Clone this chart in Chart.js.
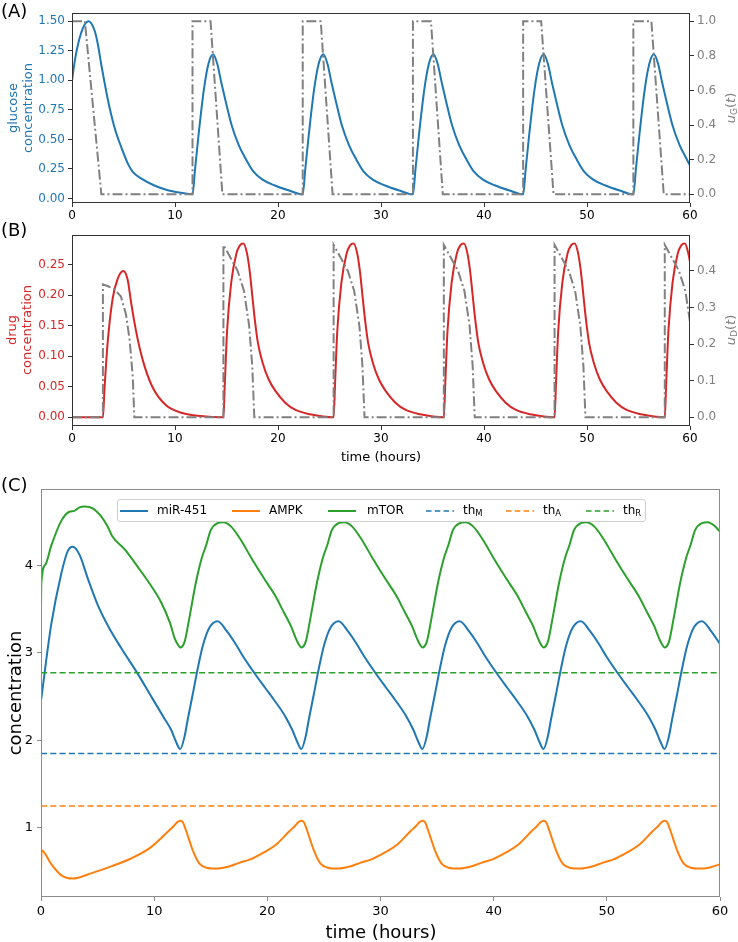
<!DOCTYPE html>
<html>
<head>
<meta charset="utf-8">
<title>Glucose, drug and miR-451 / AMPK / mTOR</title>
<script src="https://cdn.jsdelivr.net/npm/chart.js"></script>
<style>
    body { margin: 0; background: #fff; font-family: "DejaVu Sans", sans-serif; }
    #wrap { position: relative; width: 738px; height: 942px; overflow: hidden; }
    canvas { position: absolute; left: 0; }
    .txt { position: absolute; white-space: nowrap; line-height: 1; }
    .rot { position: absolute; white-space: nowrap; text-align: center; transform: translate(-50%, -50%) rotate(-90deg); }
    .ctr { position: absolute; white-space: nowrap; transform: translate(-50%, -50%); }
    sub { font-size: 70%; vertical-align: -0.25em; line-height: 0; }
    #legend { position: absolute; border: 1px solid #d0d0d0; border-radius: 3px; background: rgba(255,255,255,0.85); box-sizing: border-box; }
    .lg { position: absolute; }
    .lt { position: absolute; font-size: 12px; line-height: 14px; white-space: nowrap; }
</style>
</head>
<body>
<div id="wrap">
    <canvas id="chartA" width="738" height="222" style="top:0px"></canvas>
    <canvas id="chartB" width="738" height="248" style="top:222px"></canvas>
    <canvas id="chartC" width="738" height="472" style="top:470px"></canvas>

    <div class="txt" style="left:1px;top:2px;font-size:18px">(A)</div>
    <div class="txt" style="left:1px;top:221px;font-size:18px">(B)</div>
    <div class="txt" style="left:1px;top:476px;font-size:18px">(C)</div>

    <div class="rot" style="left:20px;top:108px;font-size:13px;line-height:15px;color:#1f77b4">glucose<br>concentration</div>
    <div class="rot" style="left:730px;top:108px;font-size:13px;color:#808080"><i>u</i><sub>G</sub>(<i>t</i>)</div>
    <div class="rot" style="left:19px;top:330px;font-size:13px;line-height:15px;color:#d62728">drug<br>concentration</div>
    <div class="rot" style="left:730px;top:330px;font-size:13px;color:#808080"><i>u</i><sub>D</sub>(<i>t</i>)</div>
    <div class="ctr" style="left:381px;top:456px;font-size:13px">time (hours)</div>

    <div class="rot" style="left:14px;top:693px;font-size:18px">concentration</div>
    <div class="ctr" style="left:381px;top:931px;font-size:18px">time (hours)</div>

    <div id="legend" style="left:117px;top:499px;width:529px;height:23px"></div>
    <svg class="lg" style="left:120px;top:509px" width="28" height="4"><line x1="0" y1="2" x2="28" y2="2" stroke="#1f77b4" stroke-width="2"/></svg>
    <div class="lt" style="left:157px;top:503px">miR-451</div>
    <svg class="lg" style="left:232px;top:509px" width="28" height="4"><line x1="0" y1="2" x2="28" y2="2" stroke="#ff7f0e" stroke-width="2"/></svg>
    <div class="lt" style="left:269px;top:503px">AMPK</div>
    <svg class="lg" style="left:328px;top:509px" width="28" height="4"><line x1="0" y1="2" x2="28" y2="2" stroke="#2ca02c" stroke-width="2"/></svg>
    <div class="lt" style="left:367px;top:503px">mTOR</div>
    <svg class="lg" style="left:426px;top:509px" width="28" height="4"><line x1="0" y1="2" x2="28" y2="2" stroke="#1f77b4" stroke-width="1.5" stroke-dasharray="5.5 3.3"/></svg>
    <div class="lt" style="left:463px;top:503px">th<sub>M</sub></div>
    <svg class="lg" style="left:506px;top:509px" width="28" height="4"><line x1="0" y1="2" x2="28" y2="2" stroke="#ff7f0e" stroke-width="1.5" stroke-dasharray="5.5 3.3"/></svg>
    <div class="lt" style="left:543px;top:503px">th<sub>A</sub></div>
    <svg class="lg" style="left:586px;top:509px" width="28" height="4"><line x1="0" y1="2" x2="28" y2="2" stroke="#2ca02c" stroke-width="1.5" stroke-dasharray="5.5 3.3"/></svg>
    <div class="lt" style="left:623px;top:503px">th<sub>R</sub></div>
</div>

<script>
    // ---- tick values ----
    const timeTicks = [0, 10, 20, 30, 40, 50, 60];
    const glucoseTicks = [0, 0.25, 0.5, 0.75, 1.0, 1.25, 1.5];
    const uGTicks = [0, 0.2, 0.4, 0.6, 0.8, 1.0];
    const drugTicks = [0, 0.05, 0.10, 0.15, 0.20, 0.25];
    const uDTicks = [0, 0.1, 0.2, 0.3, 0.4];
    const concTicks = [1, 2, 3, 4];

    // ---- panel A: glucose concentration and glucose input u_G(t) ----
    const glucoseTime = [
        0, 0.3, 0.6, 1.05, 1.6, 2.2, 2.5, 2.85, 3.5, 4.1, 4.8, 5.4, 5.9, 6.7, 8.0, 9.3, 10.6,
        11.7, 11.95, 12.3, 12.8, 13.25, 13.7, 14.1, 14.5, 14.9, 15.5, 16.2, 16.9, 17.6, 18.5, 19.7, 21.0,
        22.4, 22.65, 23.0, 23.5, 23.95, 24.4, 24.8, 25.2, 25.6, 26.2, 26.9, 27.6, 28.3, 29.2, 30.4, 31.7,
        33.1, 33.35, 33.7, 34.2, 34.65, 35.1, 35.5, 35.9, 36.3, 36.9, 37.6, 38.3, 39.0, 39.9, 41.1, 42.4,
        43.8, 44.05, 44.4, 44.9, 45.35, 45.8, 46.2, 46.6, 47.0, 47.6, 48.3, 49.0, 49.7, 50.6, 51.8, 53.1,
        54.5, 54.75, 55.1, 55.6, 56.05, 56.5, 56.9, 57.3, 57.7, 58.3, 59.0, 59.7, 60.0
    ];
    const glucoseValue = [
        1.00, 1.18, 1.31, 1.44, 1.50, 1.42, 1.31, 1.13, 0.83, 0.61, 0.43, 0.30, 0.225, 0.17, 0.11, 0.07, 0.048,
        0.035, 0.25, 0.55, 0.92, 1.14, 1.22, 1.14, 0.98, 0.83, 0.62, 0.45, 0.33, 0.23, 0.16, 0.11, 0.07,
        0.035, 0.25, 0.55, 0.92, 1.14, 1.22, 1.14, 0.98, 0.83, 0.62, 0.45, 0.33, 0.23, 0.16, 0.11, 0.07,
        0.035, 0.25, 0.55, 0.92, 1.14, 1.22, 1.14, 0.98, 0.83, 0.62, 0.45, 0.33, 0.23, 0.16, 0.11, 0.07,
        0.035, 0.25, 0.55, 0.92, 1.14, 1.22, 1.14, 0.98, 0.83, 0.62, 0.45, 0.33, 0.23, 0.16, 0.11, 0.07,
        0.035, 0.25, 0.55, 0.92, 1.14, 1.22, 1.14, 0.98, 0.83, 0.62, 0.45, 0.33, 0.28
    ];
    const uGTime = [0, 1.25, 2.85, 11.7, 11.7, 13.45, 14.6, 22.4, 22.4, 24.15, 25.3, 33.1, 33.1, 34.85, 36.0,
        43.8, 43.8, 45.55, 46.75, 54.5, 54.5, 56.25, 57.45, 60];
    const uGValue = [1, 1, 0, 0, 1, 1, 0, 0, 1, 1, 0, 0, 1, 1, 0, 0, 1, 1, 0, 0, 1, 1, 0, 0];

    // ---- panel B: drug concentration and drug input u_D(t) ----
    const drugTime = [
        0, 3.0, 3.15, 3.45, 3.95, 4.45, 4.98, 5.4, 5.75, 6.2, 6.85, 7.8, 9.1, 10.7, 12.5,
        14.7, 14.85, 15.05, 15.45, 15.95, 16.3, 16.65, 17.0, 17.25, 17.5, 17.75, 18.05, 18.5, 19.1, 19.8, 20.7, 21.7, 23.1,
        25.4, 25.55, 25.75, 26.15, 26.65, 27.0, 27.35, 27.7, 27.95, 28.2, 28.45, 28.75, 29.2, 29.8, 30.5, 31.4, 32.4, 33.8,
        36.1, 36.25, 36.45, 36.85, 37.35, 37.7, 38.05, 38.4, 38.65, 38.9, 39.15, 39.45, 39.9, 40.5, 41.2, 42.1, 43.1, 44.5,
        46.85, 47.0, 47.2, 47.6, 48.1, 48.45, 48.8, 49.15, 49.4, 49.65, 49.9, 50.2, 50.65, 51.25, 51.95, 52.85, 53.85, 55.25,
        57.55, 57.7, 57.9, 58.3, 58.8, 59.15, 59.5, 59.85, 60.0
    ];
    const drugValue = [
        0, 0, 0.045, 0.12, 0.195, 0.228, 0.240, 0.226, 0.187, 0.143, 0.095, 0.05, 0.02, 0.007, 0.002,
        0, 0.06, 0.14, 0.22, 0.268, 0.282, 0.285, 0.268, 0.24, 0.20, 0.16, 0.122, 0.09, 0.062, 0.042, 0.024, 0.012, 0.005,
        0, 0.06, 0.14, 0.22, 0.268, 0.282, 0.285, 0.268, 0.24, 0.20, 0.16, 0.122, 0.09, 0.062, 0.042, 0.024, 0.012, 0.005,
        0, 0.06, 0.14, 0.22, 0.268, 0.282, 0.285, 0.268, 0.24, 0.20, 0.16, 0.122, 0.09, 0.062, 0.042, 0.024, 0.012, 0.005,
        0, 0.06, 0.14, 0.22, 0.268, 0.282, 0.285, 0.268, 0.24, 0.20, 0.16, 0.122, 0.09, 0.062, 0.042, 0.024, 0.012, 0.005,
        0, 0.06, 0.14, 0.22, 0.268, 0.282, 0.285, 0.268, 0.255
    ];
    const uDTime = [
        0, 3.0, 3.0, 3.5, 4.1, 4.75, 5.25, 5.6, 5.9, 6.05,
        14.7, 14.7, 15.4, 16.08, 16.7, 17.2, 17.5, 17.7,
        25.4, 25.4, 26.1, 26.78, 27.4, 27.9, 28.2, 28.4,
        36.1, 36.1, 36.8, 37.48, 38.1, 38.6, 38.9, 39.1,
        46.85, 46.85, 47.55, 48.23, 48.85, 49.35, 49.65, 49.85,
        57.55, 57.55, 58.25, 58.93, 59.55, 60.0
    ];
    const uDValue = [
        0, 0, 0.363, 0.358, 0.35, 0.33, 0.28, 0.21, 0.11, 0,
        0, 0.471, 0.435, 0.40, 0.345, 0.25, 0.14, 0,
        0, 0.471, 0.435, 0.40, 0.345, 0.25, 0.14, 0,
        0, 0.471, 0.435, 0.40, 0.345, 0.25, 0.14, 0,
        0, 0.471, 0.435, 0.40, 0.345, 0.25, 0.14, 0,
        0, 0.471, 0.435, 0.40, 0.345, 0.26
    ];

    // ---- panel C: miR-451, AMPK, mTOR and thresholds ----
    const mirTime = [
        0, 0.9, 1.77, 2.36, 2.8, 3.4, 4.13, 5.0, 5.95, 7.1, 8.5, 9.88, 10.9, 11.5, 11.94,
        12.3, 12.68, 12.97, 13.4, 13.85, 14.3, 14.9, 15.6, 16.4, 17.2, 17.85, 18.9, 19.8, 20.6, 21.6, 22.2, 22.65,
        23.0, 23.38, 23.67, 24.1, 24.55, 25.0, 25.6, 26.3, 27.1, 27.9, 28.55, 29.6, 30.5, 31.3, 32.3, 32.9, 33.35,
        33.7, 34.08, 34.37, 34.8, 35.25, 35.7, 36.3, 37.0, 37.8, 38.6, 39.25, 40.3, 41.2, 42.0, 43.0, 43.6, 44.05,
        44.4, 44.78, 45.07, 45.5, 45.95, 46.4, 47.0, 47.7, 48.5, 49.3, 49.95, 51.0, 51.9, 52.7, 53.7, 54.3, 54.75,
        55.1, 55.48, 55.77, 56.2, 56.65, 57.1, 57.7, 58.4, 59.2, 60.0
    ];
    const mirValue = [
        2.45, 3.32, 3.89, 4.16, 4.21, 4.12, 3.85, 3.55, 3.30, 3.05, 2.77, 2.47, 2.25, 2.12, 1.98,
        1.90, 2.04, 2.24, 2.52, 2.82, 3.08, 3.29, 3.36, 3.25, 3.10, 2.96, 2.76, 2.60, 2.46, 2.27, 2.12, 1.98,
        1.90, 2.04, 2.24, 2.52, 2.82, 3.08, 3.29, 3.36, 3.25, 3.10, 2.96, 2.76, 2.60, 2.46, 2.27, 2.12, 1.98,
        1.90, 2.04, 2.24, 2.52, 2.82, 3.08, 3.29, 3.36, 3.25, 3.10, 2.96, 2.76, 2.60, 2.46, 2.27, 2.12, 1.98,
        1.90, 2.04, 2.24, 2.52, 2.82, 3.08, 3.29, 3.36, 3.25, 3.10, 2.96, 2.76, 2.60, 2.46, 2.27, 2.12, 1.98,
        1.90, 2.04, 2.24, 2.52, 2.82, 3.08, 3.29, 3.36, 3.25, 3.10
    ];
    const ampkTime = [
        0, 0.05, 0.88, 1.77, 2.8, 4.42, 6.19, 7.96, 9.73, 11.2, 11.8, 12.05,
        12.3, 12.55, 12.8, 13.1, 13.4, 14.0, 14.6, 15.6, 16.5, 17.5, 18.5, 19.7, 20.7, 21.9, 22.5, 22.75,
        23.0, 23.25, 23.5, 23.8, 24.1, 24.7, 25.3, 26.3, 27.2, 28.2, 29.2, 30.4, 31.4, 32.6, 33.2, 33.45,
        33.7, 33.95, 34.2, 34.5, 34.8, 35.4, 36.0, 37.0, 37.9, 38.9, 39.9, 41.1, 42.1, 43.3, 43.9, 44.15,
        44.4, 44.65, 44.9, 45.2, 45.5, 46.1, 46.7, 47.7, 48.6, 49.6, 50.6, 51.8, 52.8, 54.0, 54.6, 54.85,
        55.1, 55.35, 55.6, 55.9, 56.2, 56.8, 57.4, 58.4, 59.3, 60.0
    ];
    const ampkValue = [
        0.50, 0.745, 0.59, 0.46, 0.42, 0.48, 0.56, 0.65, 0.78, 0.955, 1.03, 1.065,
        1.08, 1.06, 0.975, 0.86, 0.745, 0.59, 0.545, 0.535, 0.555, 0.60, 0.64, 0.72, 0.80, 0.955, 1.03, 1.065,
        1.08, 1.06, 0.975, 0.86, 0.745, 0.59, 0.545, 0.535, 0.555, 0.60, 0.64, 0.72, 0.80, 0.955, 1.03, 1.065,
        1.08, 1.06, 0.975, 0.86, 0.745, 0.59, 0.545, 0.535, 0.555, 0.60, 0.64, 0.72, 0.80, 0.955, 1.03, 1.065,
        1.08, 1.06, 0.975, 0.86, 0.745, 0.59, 0.545, 0.535, 0.555, 0.60, 0.64, 0.72, 0.80, 0.955, 1.03, 1.065,
        1.08, 1.06, 0.975, 0.86, 0.745, 0.59, 0.545, 0.535, 0.555, 0.585
    ];
    const mtorTime = [
        0, 0.03, 0.4, 0.9, 1.77, 2.5, 2.95, 3.4, 3.83, 4.57, 5.3, 5.9, 6.3, 7.4, 8.55, 9.7, 10.6, 11.4, 11.8, 12.1,
        12.3, 12.7, 13.1, 13.7, 14.2, 14.6, 15.0, 15.6, 16.1, 16.8, 17.55, 18.6, 19.7, 20.7, 21.5, 22.1, 22.5, 22.8,
        23.0, 23.4, 23.8, 24.4, 24.9, 25.3, 25.7, 26.3, 26.8, 27.5, 28.25, 29.3, 30.4, 31.4, 32.2, 32.8, 33.2, 33.5,
        33.7, 34.1, 34.5, 35.1, 35.6, 36.0, 36.4, 37.0, 37.5, 38.2, 38.95, 40.0, 41.1, 42.1, 42.9, 43.5, 43.9, 44.2,
        44.4, 44.8, 45.2, 45.8, 46.3, 46.7, 47.1, 47.7, 48.2, 48.9, 49.65, 50.7, 51.8, 52.8, 53.6, 54.2, 54.6, 54.9,
        55.1, 55.5, 55.9, 56.5, 57.0, 57.4, 57.8, 58.4, 58.9, 59.6, 60.0
    ];
    const mtorValue = [
        3.50, 3.80, 4.01, 4.22, 4.50, 4.61, 4.62, 4.66, 4.67, 4.65, 4.56, 4.44, 4.33, 4.18, 3.98, 3.77, 3.58, 3.34, 3.17, 3.09,
        3.06, 3.13, 3.39, 3.81, 4.08, 4.23, 4.40, 4.48, 4.49, 4.44, 4.31, 4.08, 3.85, 3.65, 3.45, 3.30, 3.17, 3.09,
        3.06, 3.13, 3.39, 3.81, 4.08, 4.23, 4.40, 4.48, 4.49, 4.44, 4.31, 4.08, 3.85, 3.65, 3.45, 3.30, 3.17, 3.09,
        3.06, 3.13, 3.39, 3.81, 4.08, 4.23, 4.40, 4.48, 4.49, 4.44, 4.31, 4.08, 3.85, 3.65, 3.45, 3.30, 3.17, 3.09,
        3.06, 3.13, 3.39, 3.81, 4.08, 4.23, 4.40, 4.48, 4.49, 4.44, 4.31, 4.08, 3.85, 3.65, 3.45, 3.30, 3.17, 3.09,
        3.06, 3.13, 3.39, 3.81, 4.08, 4.23, 4.40, 4.48, 4.49, 4.44, 4.38
    ];
    const thresholdNames = ['thM', 'thA', 'thR'];
    const thresholdValues = [1.85, 1.25, 2.77];

    // ---- drawing ----
    const BLUE = '#1f77b4', ORANGE = '#ff7f0e', GREEN = '#2ca02c', RED = '#d62728', GREY = '#808080';

    Chart.defaults.font.family = '"DejaVu Sans", sans-serif';
    Chart.defaults.color = '#000';

    function pts(t, v) {
        return t.map((x, i) => ({ x: x, y: v[i] }));
    }

    // frame around the plot area (matplotlib spines)
    const framePlugin = {
        id: 'frame',
        afterDraw(chart, args, opts) {
            const a = chart.chartArea, ctx = chart.ctx;
            ctx.save();
            ctx.strokeStyle = opts.color || '#333';
            ctx.lineWidth = 1;
            ctx.strokeRect(Math.round(a.left) + 0.5, Math.round(a.top) + 0.5,
                Math.round(a.right - a.left) - 1, Math.round(a.bottom - a.top) - 1);
            ctx.restore();
        }
    };

    function axis(o) {
        return {
            type: 'linear',
            position: o.position,
            min: o.min,
            max: o.max,
            afterBuildTicks: s => { s.ticks = o.ticks.map(v => ({ value: v })); },
            afterFit: s => {
                if (o.width !== undefined) s.width = o.width;
                if (o.height !== undefined) s.height = o.height;
            },
            border: { display: false },
            grid: { drawOnChartArea: false, drawTicks: true, tickLength: 4, tickColor: o.tickColor || '#333' },
            ticks: {
                color: o.color || '#000',
                font: { size: o.size || 12 },
                padding: o.padding || 3,
                autoSkip: false,
                maxRotation: 0,
                callback: v => Number(v).toFixed(o.digits || 0)
            }
        };
    }

    function line(data, color, axisId, extra) {
        return Object.assign({
            data: data, yAxisID: axisId, borderColor: color, borderWidth: 2,
            pointRadius: 0, fill: false, cubicInterpolationMode: 'monotone'
        }, extra || {});
    }

    const common = {
        responsive: false,
        animation: false,
        devicePixelRatio: 1,
        events: [],
        plugins: { legend: { display: false }, tooltip: { enabled: false } }
    };

    // Panel A
    new Chart(document.getElementById('chartA'), {
        type: 'line',
        data: {
            datasets: [
                line(pts(uGTime, uGValue), GREY, 'y1', { tension: 0, cubicInterpolationMode: 'default', borderDash: [10, 3, 2, 3] }),
                line(pts(glucoseTime, glucoseValue), BLUE, 'y')
            ]
        },
        options: Object.assign({}, common, {
            layout: { padding: { top: 13, left: 0, right: 0, bottom: 0 } },
            plugins: Object.assign({}, common.plugins, { frame: { color: '#333' } }),
            scales: {
                x: axis({ position: 'bottom', min: 0, max: 60, ticks: timeTicks, height: 19, padding: 2 }),
                y: axis({ position: 'left', min: -0.038, max: 1.570, ticks: glucoseTicks, digits: 2, color: BLUE, width: 72 }),
                y1: axis({ position: 'right', min: -0.05, max: 1.047, ticks: uGTicks, digits: 1, color: GREY, width: 48 })
            }
        }),
        plugins: [framePlugin]
    });

    // Panel B
    new Chart(document.getElementById('chartB'), {
        type: 'line',
        data: {
            datasets: [
                line(pts(uDTime, uDValue), GREY, 'y1', { tension: 0, cubicInterpolationMode: 'default', borderDash: [10, 3, 2, 3] }),
                line(pts(drugTime, drugValue), RED, 'y')
            ]
        },
        options: Object.assign({}, common, {
            layout: { padding: { top: 13, left: 0, right: 0, bottom: 0 } },
            plugins: Object.assign({}, common.plugins, { frame: { color: '#333' } }),
            scales: {
                x: axis({ position: 'bottom', min: 0, max: 60, ticks: timeTicks, height: 44, padding: 2 }),
                y: axis({ position: 'left', min: -0.0143, max: 0.299, ticks: drugTicks, digits: 2, color: RED, width: 72 }),
                y1: axis({ position: 'right', min: -0.024, max: 0.498, ticks: uDTicks, digits: 1, color: GREY, width: 48 })
            }
        }),
        plugins: [framePlugin]
    });

    // Panel C
    const thColors = [BLUE, ORANGE, GREEN];
    const thSets = thresholdValues.map((v, i) => line([{ x: 0, y: v }, { x: 60, y: v }], thColors[i], 'y',
        { borderWidth: 1.5, borderDash: [6, 3.3], tension: 0, cubicInterpolationMode: 'default', label: thresholdNames[i] }));

    new Chart(document.getElementById('chartC'), {
        type: 'line',
        data: {
            datasets: thSets.concat([
                line(pts(mtorTime, mtorValue), GREEN, 'y', { label: 'mTOR' }),
                line(pts(ampkTime, ampkValue), ORANGE, 'y', { label: 'AMPK' }),
                line(pts(mirTime, mirValue), BLUE, 'y', { label: 'miR-451' })
            ])
        },
        options: Object.assign({}, common, {
            layout: { padding: { top: 19, left: 0, right: 18, bottom: 0 } },
            plugins: Object.assign({}, common.plugins, { frame: { color: '#8c8c8c' } }),
            scales: {
                x: axis({ position: 'bottom', min: 0, max: 60, ticks: timeTicks, height: 45, size: 13, padding: 3, tickColor: '#8c8c8c' }),
                y: axis({ position: 'left', min: 0.21, max: 4.87, ticks: concTicks, width: 41, size: 13, padding: 4, tickColor: '#8c8c8c' })
            }
        }),
        plugins: [framePlugin]
    });
</script>
</body>
</html>
